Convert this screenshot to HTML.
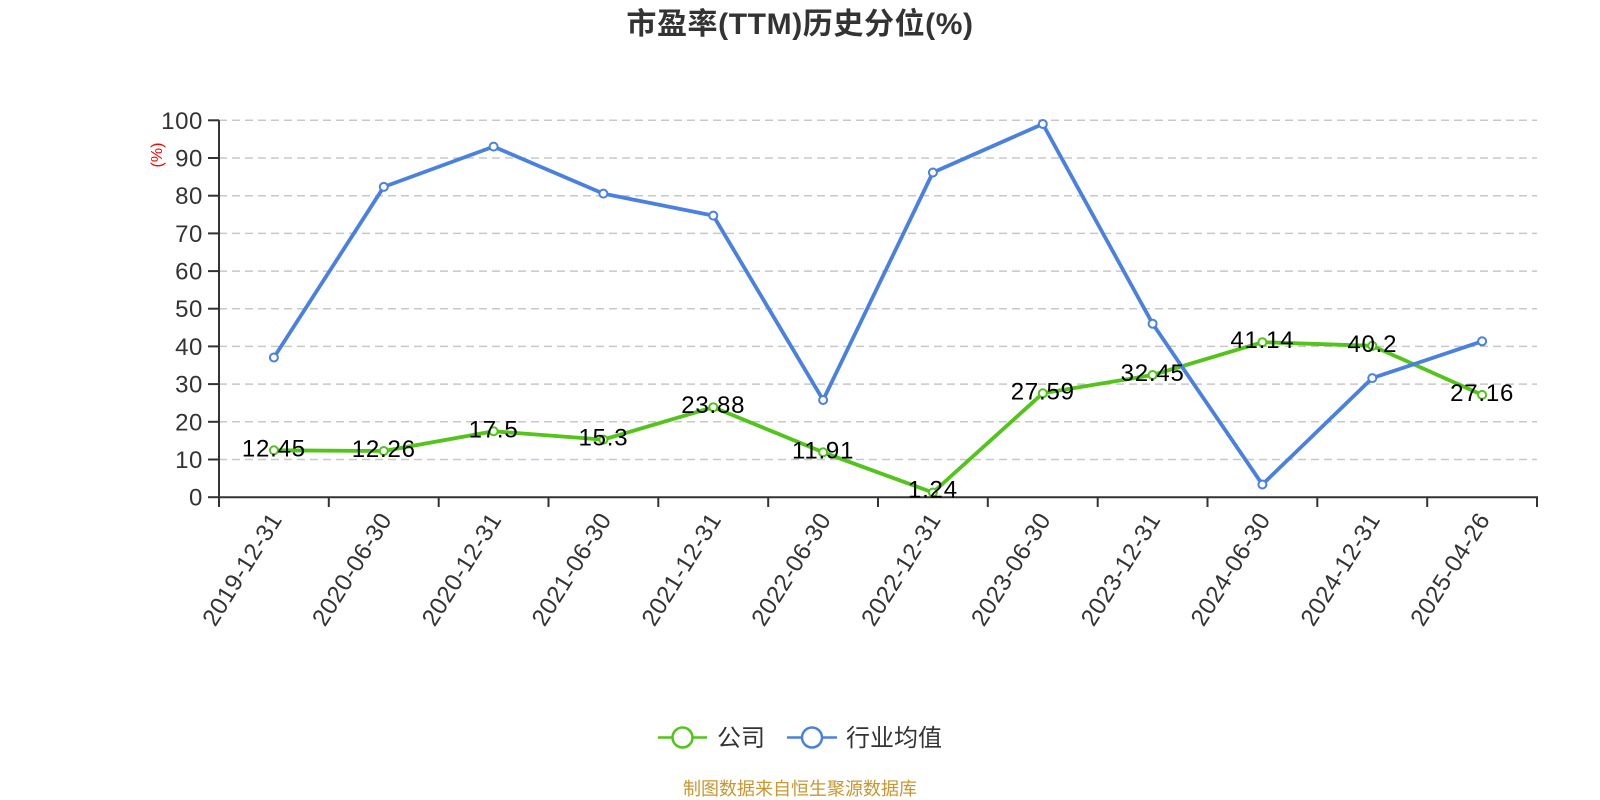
<!DOCTYPE html>
<html>
<head>
<meta charset="utf-8">
<style>
  html,body{margin:0;padding:0;background:#fff;}
  svg{display:block;}
  text{font-family:"Liberation Sans","Noto Sans CJK SC",sans-serif;}
</style>
</head>
<body>
<svg width="1600" height="800" viewBox="0 0 1600 800" xmlns="http://www.w3.org/2000/svg">
  <rect width="1600" height="800" fill="#fff"/>
  <!-- Title -->
  <text x="800" y="34" text-anchor="middle" font-size="30" font-weight="bold" fill="#333" letter-spacing="0.6">市盈率(TTM)历史分位(%)</text>

  <!-- grid lines -->
  <g stroke="#c8c8c8" stroke-width="1.5" stroke-dasharray="8 5" fill="none">
    <line x1="219" y1="120.3" x2="1537" y2="120.3"/>
    <line x1="219" y1="158.0" x2="1537" y2="158.0"/>
    <line x1="219" y1="195.7" x2="1537" y2="195.7"/>
    <line x1="219" y1="233.4" x2="1537" y2="233.4"/>
    <line x1="219" y1="271.1" x2="1537" y2="271.1"/>
    <line x1="219" y1="308.7" x2="1537" y2="308.7"/>
    <line x1="219" y1="346.4" x2="1537" y2="346.4"/>
    <line x1="219" y1="384.1" x2="1537" y2="384.1"/>
    <line x1="219" y1="421.8" x2="1537" y2="421.8"/>
    <line x1="219" y1="459.5" x2="1537" y2="459.5"/>
  </g>

  <!-- y axis -->
  <g stroke="#333" stroke-width="2">
    <line x1="219" y1="120.3" x2="219" y2="497.2"/>
    <line x1="208" y1="120.3" x2="219" y2="120.3"/>
    <line x1="208" y1="158.0" x2="219" y2="158.0"/>
    <line x1="208" y1="195.7" x2="219" y2="195.7"/>
    <line x1="208" y1="233.4" x2="219" y2="233.4"/>
    <line x1="208" y1="271.1" x2="219" y2="271.1"/>
    <line x1="208" y1="308.7" x2="219" y2="308.7"/>
    <line x1="208" y1="346.4" x2="219" y2="346.4"/>
    <line x1="208" y1="384.1" x2="219" y2="384.1"/>
    <line x1="208" y1="421.8" x2="219" y2="421.8"/>
    <line x1="208" y1="459.5" x2="219" y2="459.5"/>
    <line x1="208" y1="497.2" x2="219" y2="497.2"/>
  </g>
  <g font-size="24" fill="#333" text-anchor="end" letter-spacing="0.6">
    <text x="203" y="128.8">100</text>
    <text x="203" y="166.5">90</text>
    <text x="203" y="204.2">80</text>
    <text x="203" y="241.9">70</text>
    <text x="203" y="279.6">60</text>
    <text x="203" y="317.2">50</text>
    <text x="203" y="354.9">40</text>
    <text x="203" y="392.6">30</text>
    <text x="203" y="430.3">20</text>
    <text x="203" y="468.0">10</text>
    <text x="203" y="505.7">0</text>
  </g>
  <text transform="translate(162,155) rotate(-90)" text-anchor="middle" font-size="16" fill="#ff0000">(%)</text>

  <!-- x axis -->
  <g stroke="#333" stroke-width="2">
    <line x1="218" y1="497.2" x2="1538" y2="497.2"/>
    <line x1="219" y1="497.2" x2="219" y2="507"/>
    <line x1="328.8" y1="497.2" x2="328.8" y2="507"/>
    <line x1="438.7" y1="497.2" x2="438.7" y2="507"/>
    <line x1="548.5" y1="497.2" x2="548.5" y2="507"/>
    <line x1="658.3" y1="497.2" x2="658.3" y2="507"/>
    <line x1="768.2" y1="497.2" x2="768.2" y2="507"/>
    <line x1="878" y1="497.2" x2="878" y2="507"/>
    <line x1="987.8" y1="497.2" x2="987.8" y2="507"/>
    <line x1="1097.7" y1="497.2" x2="1097.7" y2="507"/>
    <line x1="1207.5" y1="497.2" x2="1207.5" y2="507"/>
    <line x1="1317.3" y1="497.2" x2="1317.3" y2="507"/>
    <line x1="1427.2" y1="497.2" x2="1427.2" y2="507"/>
    <line x1="1537" y1="497.2" x2="1537" y2="507"/>
  </g>
  <g font-size="24" fill="#333" text-anchor="end" letter-spacing="0.5">
    <text transform="translate(276,515) rotate(-58)" dy="8">2019-12-31</text>
    <text transform="translate(385.8,515) rotate(-58)" dy="8">2020-06-30</text>
    <text transform="translate(495.6,515) rotate(-58)" dy="8">2020-12-31</text>
    <text transform="translate(605.4,515) rotate(-58)" dy="8">2021-06-30</text>
    <text transform="translate(715.3,515) rotate(-58)" dy="8">2021-12-31</text>
    <text transform="translate(825.1,515) rotate(-58)" dy="8">2022-06-30</text>
    <text transform="translate(934.9,515) rotate(-58)" dy="8">2022-12-31</text>
    <text transform="translate(1044.8,515) rotate(-58)" dy="8">2023-06-30</text>
    <text transform="translate(1154.6,515) rotate(-58)" dy="8">2023-12-31</text>
    <text transform="translate(1264.4,515) rotate(-58)" dy="8">2024-06-30</text>
    <text transform="translate(1374.3,515) rotate(-58)" dy="8">2024-12-31</text>
    <text transform="translate(1484.1,515) rotate(-58)" dy="8">2025-04-26</text>
  </g>

  <!-- green series (公司) -->
  <polyline fill="none" stroke="#52c41a" stroke-width="3.8" stroke-linejoin="round"
    points="273.9,450.3 383.8,451.0 493.6,431.3 603.4,439.6 713.3,407.2 823.1,452.3 932.9,492.5 1042.8,393.3 1152.6,375.0 1262.4,342.2 1372.3,345.8 1482.1,394.9"/>
  <g fill="#fff" stroke="#52c41a" stroke-width="2">
    <circle cx="273.9" cy="450.3" r="4"/>
    <circle cx="383.8" cy="451.0" r="4"/>
    <circle cx="493.6" cy="431.3" r="4"/>
    <circle cx="603.4" cy="439.6" r="4"/>
    <circle cx="713.3" cy="407.2" r="4"/>
    <circle cx="823.1" cy="452.3" r="4"/>
    <circle cx="932.9" cy="492.5" r="4"/>
    <circle cx="1042.8" cy="393.3" r="4"/>
    <circle cx="1152.6" cy="375.0" r="4"/>
    <circle cx="1262.4" cy="342.2" r="4"/>
    <circle cx="1372.3" cy="345.8" r="4"/>
    <circle cx="1482.1" cy="394.9" r="4"/>
  </g>

  <!-- blue series (行业均值) -->
  <polyline fill="none" stroke="#4a81e1" stroke-width="3.8" stroke-linejoin="round"
    points="273.9,357.5 383.8,186.9 493.6,146.6 603.4,193.6 713.3,215.6 823.1,400.0 932.9,172.5 1042.8,124.0 1152.6,323.7 1262.4,484.5 1372.3,378.1 1482.1,341.3"/>
  <g fill="#fff" stroke="#4a81e1" stroke-width="2">
    <circle cx="273.9" cy="357.5" r="4"/>
    <circle cx="383.8" cy="186.9" r="4"/>
    <circle cx="493.6" cy="146.6" r="4"/>
    <circle cx="603.4" cy="193.6" r="4"/>
    <circle cx="713.3" cy="215.6" r="4"/>
    <circle cx="823.1" cy="400.0" r="4"/>
    <circle cx="932.9" cy="172.5" r="4"/>
    <circle cx="1042.8" cy="124.0" r="4"/>
    <circle cx="1152.6" cy="323.7" r="4"/>
    <circle cx="1262.4" cy="484.5" r="4"/>
    <circle cx="1372.3" cy="378.1" r="4"/>
    <circle cx="1482.1" cy="341.3" r="4"/>
  </g>

  <!-- data labels -->
  <g font-size="24" fill="#000" text-anchor="middle" letter-spacing="0.8">
    <text x="273.9" y="456.3">12.45</text>
    <text x="383.8" y="457.0">12.26</text>
    <text x="493.6" y="437.3">17.5</text>
    <text x="603.4" y="445.6">15.3</text>
    <text x="713.3" y="413.2">23.88</text>
    <text x="823.1" y="458.3">11.91</text>
    <text x="932.9" y="497.5">1.24</text>
    <text x="1042.8" y="399.3">27.59</text>
    <text x="1152.6" y="381.0">32.45</text>
    <text x="1262.4" y="348.2">41.14</text>
    <text x="1372.3" y="351.8">40.2</text>
    <text x="1482.1" y="400.9">27.16</text>
  </g>

  <!-- legend -->
  <line x1="658" y1="737.5" x2="707" y2="737.5" stroke="#52c41a" stroke-width="2.5"/>
  <circle cx="682.5" cy="737.5" r="10" fill="#fff" stroke="#52c41a" stroke-width="2.5"/>
  <text x="717" y="746" font-size="24" fill="#333">公司</text>
  <line x1="787" y1="737.5" x2="837" y2="737.5" stroke="#4a81e1" stroke-width="2.5"/>
  <circle cx="812" cy="737.5" r="10" fill="#fff" stroke="#4a81e1" stroke-width="2.5"/>
  <text x="846" y="746" font-size="24" fill="#333">行业均值</text>

  <!-- source -->
  <text x="800" y="795" text-anchor="middle" font-size="18" fill="#c9962f">制图数据来自恒生聚源数据库</text>
</svg>
</body>
</html>
